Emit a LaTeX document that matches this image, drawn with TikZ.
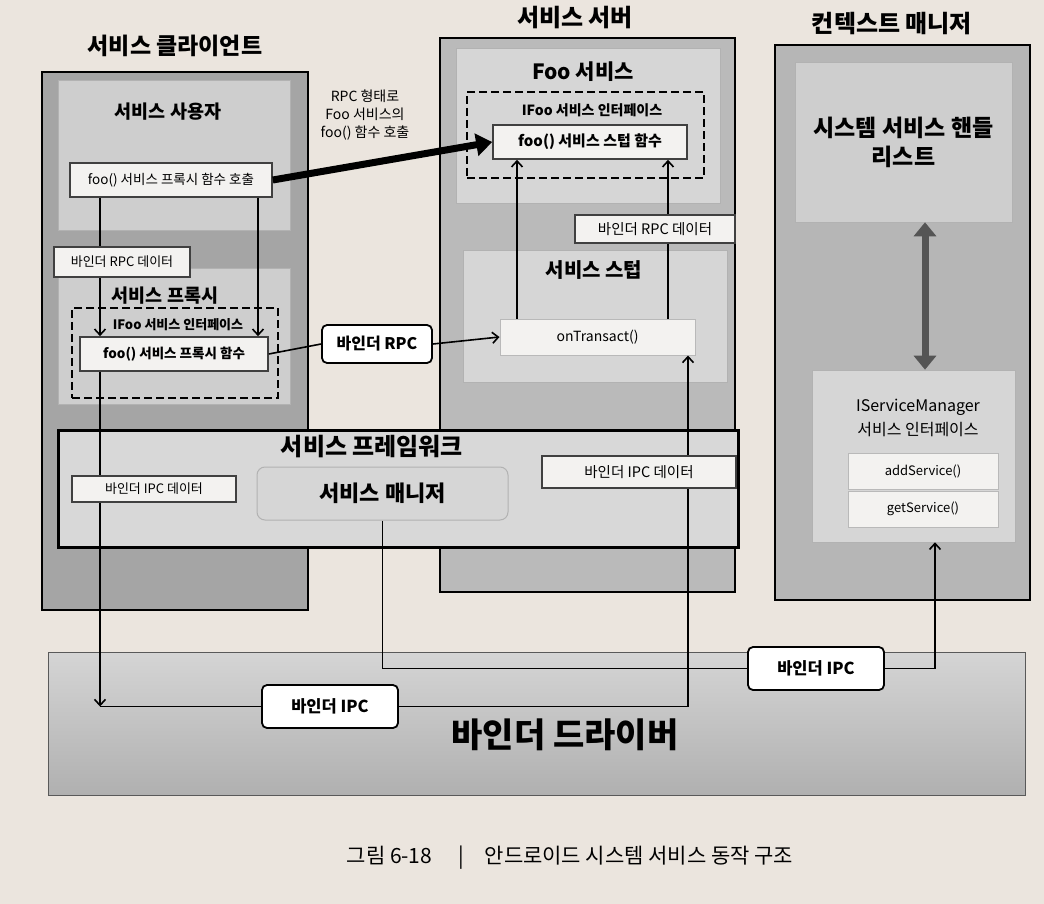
\documentclass[tikz,border=0pt]{standalone}
\usepackage{fontspec}
\setmainfont{Noto Sans CJK KR}
\usetikzlibrary{arrows.meta}
\definecolor{page}{RGB}{235,229,222}
\definecolor{outerA}{RGB}{165,165,165}
\definecolor{outerB}{RGB}{186,186,186}
\definecolor{outerC}{RGB}{182,182,182}
\definecolor{innerA}{RGB}{206,206,206}
\definecolor{innerB}{RGB}{214,214,214}
\definecolor{wfill}{RGB}{243,242,240}
\definecolor{fwfill}{RGB}{216,216,216}
\definecolor{dblc}{RGB}{85,85,85}
\newcommand{\fsz}[1]{\fontsize{#1}{#1}\selectfont}
\tikzset{
  region/.style={draw=black, line width=1.3pt, inner sep=0pt},
  innerbox/.style={draw=gray!60, line width=0.6pt, inner sep=0pt},
  dashbox/.style={draw=black, line width=2.4pt, dash pattern=on 8pt off 4pt, inner sep=0pt},
  wbox/.style={draw=black!75, line width=1.6pt, fill=wfill, inner sep=0pt, font=\fsz{13.5}},
  tbox/.style={draw=gray!55, line width=1pt, fill=wfill, inner sep=0pt, font=\fsz{14}},
  ipcbox/.style={draw=black, line width=1.8pt, rounded corners=5pt, fill=white, inner sep=0pt, font=\bfseries\fsz{16.5}},
  bigtitle/.style={font=\bfseries\fsz{23}},
  subtitle/.style={font=\bfseries\fsz{18.5}},
  conn/.style={draw=black, line width=1.6pt},
  tip/.style={-{Straight Barb[length=6pt,width=11pt,line width=1.6pt]}},
  thickarrow/.style={draw=black, line width=7pt, -{Triangle[length=16pt,width=22pt]}},
  dblarrow/.style={draw=dblc, line width=7pt, {Triangle[length=14pt,width=22pt]}-{Triangle[length=14pt,width=22pt]}}
}
\begin{document}
\begin{tikzpicture}[x=1pt,y=-1pt]
\useasboundingbox[fill=page] (0,0) rectangle (1044,904);

% outer regions
\node[region, fill=outerA, minimum width=266pt, minimum height=538pt] (client) at (175,341) {};
\node[region, fill=outerB, minimum width=295pt, minimum height=554pt] (server) at (587.5,315) {};
\node[region, fill=outerC, minimum width=255pt, minimum height=555pt] (context) at (902.5,322.5) {};
\node[bigtitle] (clientT) at (175,46) {서비스 클라이언트};
\node[bigtitle, font=\bfseries\fsz{24}] (serverT) at (575,18) {서비스 서버};
\node[bigtitle, font=\bfseries\fsz{24}] (contextT) at (892,24) {컨텍스트 매니저};

% client inner
\node[innerbox, fill=innerA, minimum width=232pt, minimum height=150pt] (user) at (174,155) {};
\node[subtitle] (userT) at (168,112) {서비스 사용자};
\node[innerbox, fill=innerA, minimum width=232pt, minimum height=136pt] (proxy) at (174,336) {};
\node[subtitle] (proxyT) at (165,296) {서비스 프록시};
\node[dashbox, minimum width=206pt, minimum height=90pt] (ifooL) at (175,353) {};
\node[font=\bfseries\fsz{13}] (ifooLT) at (178,325) {IFoo 서비스 인터페이스};

% server inner
\node[innerbox, fill=innerB, minimum width=264pt, minimum height=155pt] (foosvc) at (588,125.5) {};
\node[subtitle, font=\bfseries\fsz{21}] (foosvcT) at (583,72) {Foo 서비스};
\node[dashbox, minimum width=237pt, minimum height=86pt] (ifooR) at (585.5,135) {};
\node[font=\bfseries\fsz{14}] (ifooRT) at (592,110) {IFoo 서비스 인터페이스};
\node[innerbox, fill=innerB, minimum width=264pt, minimum height=132pt] (stub) at (595,316) {};
\node[subtitle, font=\bfseries\fsz{20}] (stubT) at (594,270) {서비스 스텁};

% context inner
\node[innerbox, fill=innerA, minimum width=217pt, minimum height=160pt, align=center, font=\bfseries\fsz{23}] (list) at (903.5,142) {시스템 서비스 핸들\\[6pt]리스트};
\node[innerbox, fill=innerB, minimum width=203pt, minimum height=172pt] (ism) at (913.5,456) {};
\node[font=\fsz{16}, align=center] (ismT) at (918,418) {IServiceManager\\[5pt]서비스 인터페이스};

% framework
\node[draw=black, line width=3pt, fill=fwfill, minimum width=680pt, minimum height=117pt, inner sep=0pt] (fw) at (398,488.5) {};
\node[bigtitle, font=\bfseries\fsz{24}] (fwT) at (372,447) {서비스 프레임워크};
\node[draw=gray!60, line width=1pt, fill=innerB, rounded corners=8pt, minimum width=251pt, minimum height=53pt, inner sep=0pt, font=\bfseries\fsz{22}] (sm) at (382.5,493.5) {서비스 매니저};

% binder driver
\node[draw=gray!70!black, line width=1pt, top color=gray!33, bottom color=gray!62, minimum width=977pt, minimum height=143pt, inner sep=0pt] (driver) at (536.5,723.5) {};
\node[font=\bfseries\fsz{34}] (driverT) at (565,735) {바인더 드라이버};

% connector helper coordinates
\coordinate (xL) at (100,0);
\coordinate (xL2) at (258,0);
\coordinate (xS1) at (517,0);
\coordinate (xS2) at (668,0);
\coordinate (xS3) at (688,0);
\coordinate (xC) at (935,0);
\coordinate (xD) at (925,0);
\coordinate (cL) at (100,706.5);
\coordinate (cR) at (688,706.5);
\coordinate (cS) at (382.5,668.5);
\coordinate (cC) at (935,668.5);

% function boxes (positions needed by connectors)
\node[wbox, minimum width=202pt, minimum height=34pt] (pcall) at (171,180) {foo() 서비스 프록시 함수 호출};
\node[wbox, minimum width=188pt, minimum height=34pt, font=\bfseries\fsz{13.5}] (pfn) at (174,354) {foo() 서비스 프록시 함수};
\node[wbox, minimum width=194pt, minimum height=34pt, font=\bfseries\fsz{15}] (stubfn) at (590,142) {foo() 서비스 스텁 함수};
\node[tbox, minimum width=195pt, minimum height=36pt] (ontr) at (597.5,337) {onTransact()};
\node[tbox, minimum width=150pt, minimum height=36pt, font=\fsz{13}] (add) at (923,471) {addService()};
\node[tbox, minimum width=150pt, minimum height=36pt, font=\fsz{13}] (get) at (923,509) {getService()};

% connectors
\draw[conn, tip] (pcall.south -| xL) -- (pfn.north -| xL);
\draw[conn, tip] (pcall.south -| xL2) -- (pfn.north -| xL2);
\draw[conn, tip] (pfn.south -| xL) -- (cL);
\draw[conn, tip] (cL) -- (cR) -- (ontr.south -| xS3);
\draw[conn, tip] (ontr.north -| xS1) -- (stubfn.south -| xS1);
\draw[conn, tip] (ontr.north -| xS2) -- (stubfn.south -| xS2);
\draw[conn, tip] (sm.south) -- (cS) -- (cC) -- (ism.south -| xC);
\node[ipcbox, minimum width=110pt, minimum height=38pt, font=\bfseries\fsz{16}] (brpc) at (377,344) {바인더 RPC};
\draw[conn] (pfn.east) -- (brpc.west);
\draw[conn, tip] (brpc.east) -- (ontr.west);
\draw[thickarrow] (pcall.east) -- (stubfn.west);
\draw[dblarrow] (list.south -| xD) -- (ism.north -| xD);

% labels over connectors
\node[wbox, minimum width=136pt, minimum height=30pt, font=\fsz{13}] (rpcdL) at (122,262) {바인더 RPC 데이터};
\node[wbox, minimum width=160pt, minimum height=28pt, font=\fsz{14.5}] (rpcdR) at (655,229) {바인더 RPC 데이터};
\node[wbox, minimum width=164pt, minimum height=26pt, font=\fsz{13}] (ipcdL) at (154,489) {바인더 IPC 데이터};
\node[wbox, minimum width=194pt, minimum height=32pt, font=\fsz{14.5}] (ipcdR) at (639,472) {바인더 IPC 데이터};
\node[ipcbox, minimum width=136pt, minimum height=43pt] (ipcL) at (330,706.5) {바인더 IPC};
\node[ipcbox, minimum width=136pt, minimum height=43pt] (ipcR) at (816,668.5) {바인더 IPC};

\node[font=\fsz{14}, align=center] (rpcT) at (365,115) {RPC 형태로\\[4pt]Foo 서비스의\\[4pt]foo() 함수 호출};

% caption
\node[font=\fsz{21}] (caption) at (570,858) {그림 6-18 \quad|\quad 안드로이드 시스템 서비스 동작 구조};
\end{tikzpicture}
\end{document}
